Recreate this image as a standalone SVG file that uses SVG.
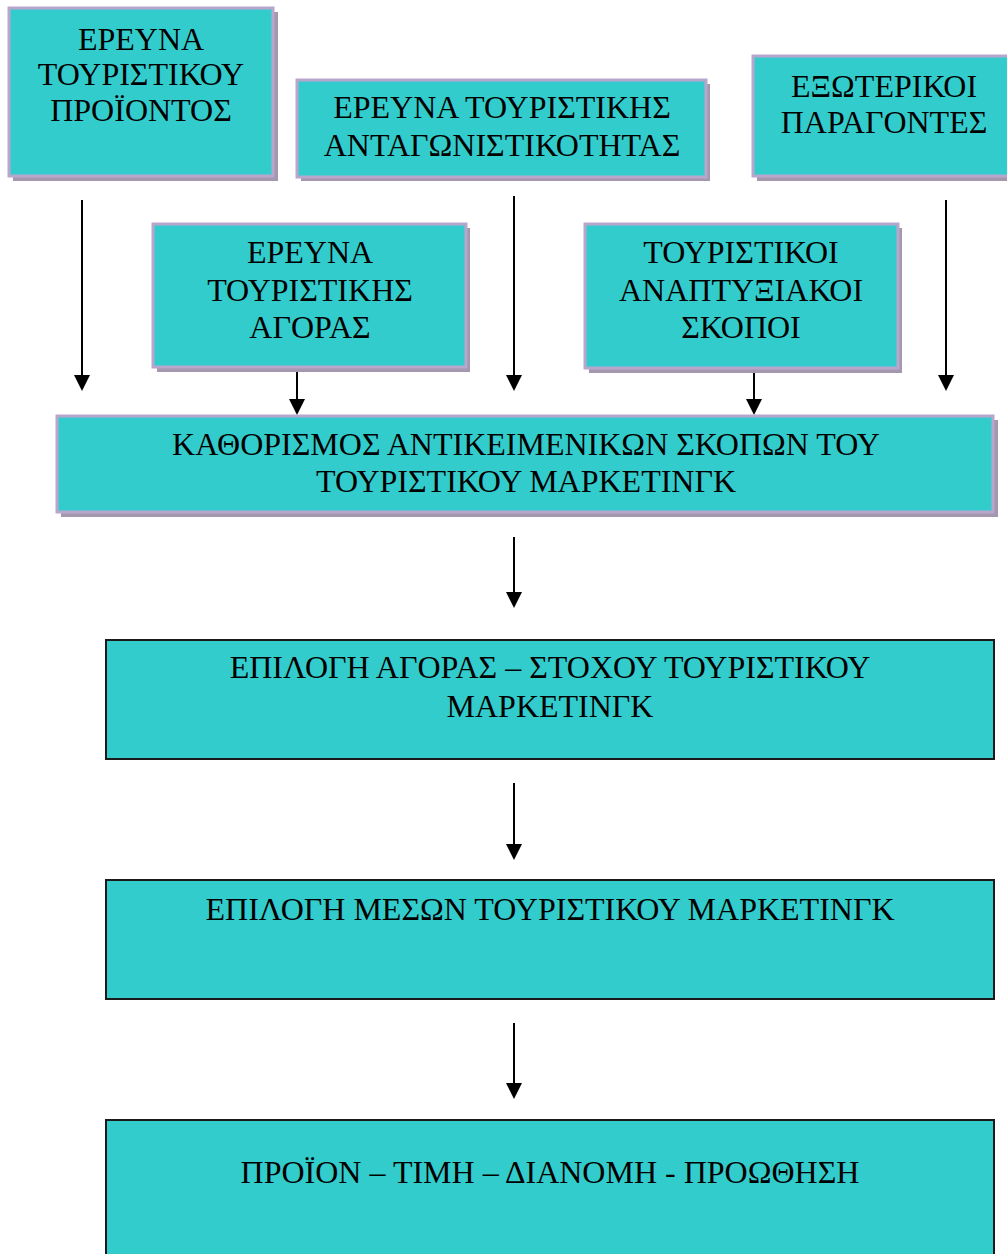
<svg xmlns="http://www.w3.org/2000/svg" width="1007" height="1254" viewBox="0 0 1007 1254">
<defs>
<style>
.box{fill:#33cccc;stroke:#b9a6cc;stroke-width:3}
.shd{fill:#a597ad}
.box2{fill:#33cccc;stroke:#1a1a1a;stroke-width:2}
text{font-family:"Liberation Serif","Times New Roman",serif;font-size:32px;fill:#000;text-anchor:middle}
.ln{stroke:#000;stroke-width:2;fill:none}
</style>
</defs>
<rect width="1007" height="1254" fill="#fff"/>
<g id="connectors">
<path class="ln" d="M82,200 V376"/><path d="M74,375 L82,391 L90,375 z"/>
<path class="ln" d="M297,368 V400"/><path d="M289,399 L297,415 L305,399 z"/>
<path class="ln" d="M514,196 V376"/><path d="M506,375 L514,391 L522,375 z"/>
<path class="ln" d="M754,368 V400"/><path d="M746,399 L754,415 L762,399 z"/>
<path class="ln" d="M946,200 V376"/><path d="M938,375 L946,391 L954,375 z"/>
<path class="ln" d="M514,537 V593"/><path d="M506,592 L514,608 L522,592 z"/>
<path class="ln" d="M514,783 V845"/><path d="M506,844 L514,860 L522,844 z"/>
<path class="ln" d="M514,1023 V1084"/><path d="M506,1083 L514,1099 L522,1083 z"/>
</g>
<g id="n1">
<rect class="shd" x="13" y="12" width="265" height="169"/>
<rect class="box" x="9" y="8" width="264" height="168"/>
<text x="141" y="50">ΕΡΕΥΝΑ</text>
<text x="141" y="85">ΤΟΥΡΙΣΤΙΚΟΥ</text>
<text x="141" y="121">ΠΡΟΪΟΝΤΟΣ</text>
</g>
<g id="n2">
<rect class="shd" x="301" y="84" width="409" height="97"/>
<rect class="box" x="297" y="80" width="409" height="97"/>
<text x="502" y="118">ΕΡΕΥΝΑ ΤΟΥΡΙΣΤΙΚΗΣ</text>
<text x="502" y="156">ΑΝΤΑΓΩΝΙΣΤΙΚΟΤΗΤΑΣ</text>
</g>
<g id="n3">
<rect class="shd" x="757" y="60" width="260" height="121"/>
<rect class="box" x="753" y="56" width="258" height="120"/>
<text x="884" y="97">ΕΞΩΤΕΡΙΚΟΙ</text>
<text x="884" y="133">ΠΑΡΑΓΟΝΤΕΣ</text>
</g>
<g id="n4">
<rect class="shd" x="157" y="228" width="313" height="144"/>
<rect class="box" x="153" y="224" width="313" height="143"/>
<text x="310" y="263">ΕΡΕΥΝΑ</text>
<text x="310" y="301">ΤΟΥΡΙΣΤΙΚΗΣ</text>
<text x="310" y="338">ΑΓΟΡΑΣ</text>
</g>
<g id="n5">
<rect class="shd" x="589" y="228" width="313" height="145"/>
<rect class="box" x="585" y="224" width="313" height="144"/>
<text x="741" y="263">ΤΟΥΡΙΣΤΙΚΟΙ</text>
<text x="741" y="301">ΑΝΑΠΤΥΞΙΑΚΟΙ</text>
<text x="741" y="338">ΣΚΟΠΟΙ</text>
</g>
<g id="n6">
<rect class="shd" x="61" y="420" width="937" height="97"/>
<rect class="box" x="57" y="416" width="936" height="96"/>
<text x="526" y="455">ΚΑΘΟΡΙΣΜΟΣ ΑΝΤΙΚΕΙΜΕΝΙΚΩΝ ΣΚΟΠΩΝ ΤΟΥ</text>
<text x="526" y="492">ΤΟΥΡΙΣΤΙΚΟΥ ΜΑΡΚΕΤΙΝΓΚ</text>
</g>
<g id="n7">
<rect class="box2" x="106" y="640" width="888" height="119"/>
<text x="550" y="678">ΕΠΙΛΟΓΗ ΑΓΟΡΑΣ – ΣΤΟΧΟΥ ΤΟΥΡΙΣΤΙΚΟΥ</text>
<text x="550" y="717">ΜΑΡΚΕΤΙΝΓΚ</text>
</g>
<g id="n8">
<rect class="box2" x="106" y="880" width="888" height="119"/>
<text x="550" y="920">ΕΠΙΛΟΓΗ ΜΕΣΩΝ ΤΟΥΡΙΣΤΙΚΟΥ ΜΑΡΚΕΤΙΝΓΚ</text>
</g>
<g id="n9">
<rect class="box2" x="106" y="1120" width="888" height="140"/>
<text x="550" y="1183">ΠΡΟΪΟΝ – ΤΙΜΗ – ΔΙΑΝΟΜΗ - ΠΡΟΩΘΗΣΗ</text>
</g>
</svg>
